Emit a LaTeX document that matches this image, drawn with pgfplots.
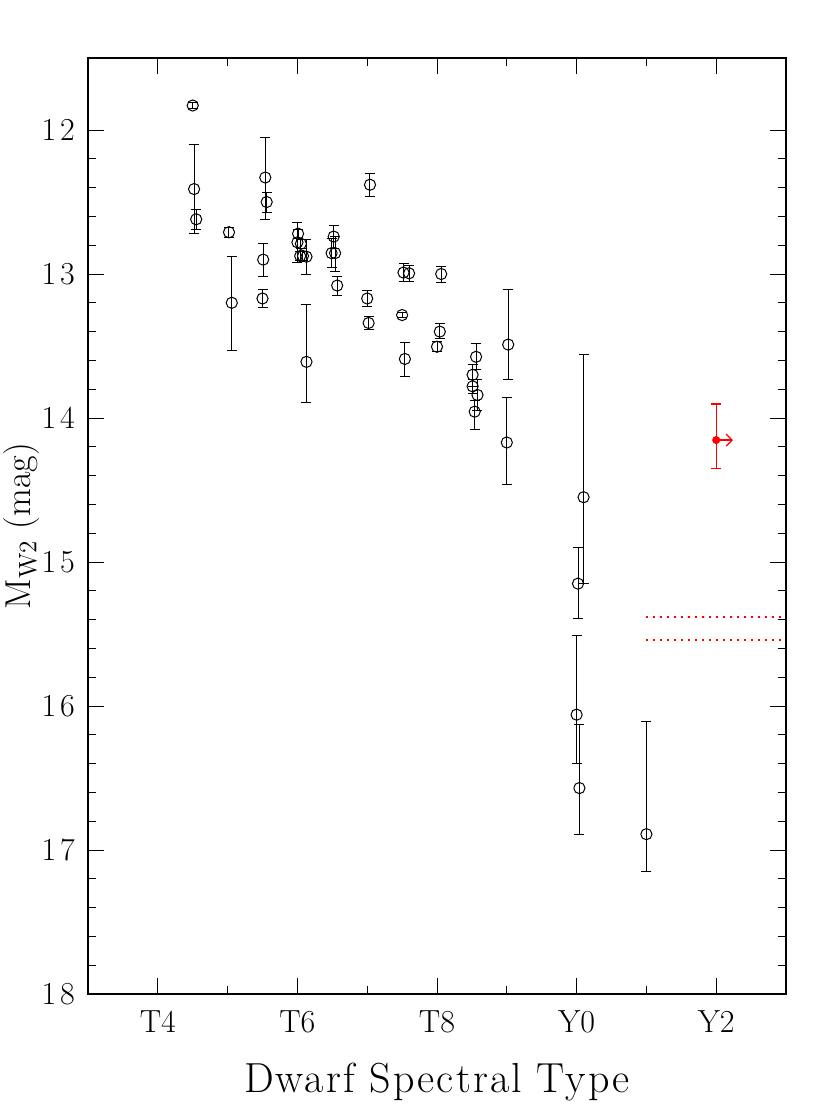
\documentclass[border=0pt]{standalone}
\usepackage{fontspec}
\setmainfont{Latin Modern Roman}
\usepackage{pgfplots}
\pgfplotsset{compat=1.18}
\usepackage{pgfplotstable}
\usetikzlibrary{arrows.meta}

% spectral type coded as number: T4=4 ... T9=9, Y0=10, Y1=11, Y2=12
% ep = error towards fainter (down on page), em = towards brighter
\pgfplotstableread{
x     y       ep     em
4.50  11.83   0.02   0.02
4.52  12.41   0.31   0.31
4.55  12.62   0.07   0.065
5.02  12.71   0.035  0.035
5.06  13.20   0.33   0.32
5.54  12.33   0.29   0.28
5.56  12.50   0.07   0.065
5.51  12.90   0.12   0.11
5.50  13.17   0.06   0.06
6.01  12.72   0.03   0.03
6.00  12.78   0.14   0.14
6.05  12.79   0.03   0.03
6.04  12.875  0.03   0.03
6.08  12.875  0.03   0.03
6.13  12.88   0.12   0.12
6.13  13.61   0.28   0.40
6.52  12.74   0.08   0.08
6.49  12.855  0.10   0.10
6.54  12.855  0.125  0.115
6.57  13.08   0.07   0.06
7.04  12.38   0.08   0.08
7.00  13.17   0.055  0.055
7.02  13.34   0.045  0.045
7.50  13.285  0.02   0.02
7.52  12.99   0.06   0.06
7.60  12.995  0.055  0.055
7.54  13.59   0.12   0.115
8.06  13.00   0.06   0.05
8.04  13.40   0.05   0.055
8.00  13.505  0.035  0.035
8.56  13.575  0.09   0.09
8.51  13.70   0.08   0.07
8.51  13.78   0.05   0.05
8.58  13.84   0.11   0.11
8.54  13.956  0.125  0.08
9.02  13.49   0.24   0.38
9.00  14.17   0.29   0.31
10.10 14.55   0.60   0.99
10.02 15.15   0.24   0.25
10.00 16.06   0.34   0.55
10.04 16.57   0.32   0.44
11.00 16.89   0.26   0.78
}\dwarfs

\begin{document}
\begin{tikzpicture}
\path[use as bounding box] (-44pt,-56pt) rectangle (371pt,497pt);
\begin{axis}[
  scale only axis, width=349pt, height=468pt,
  xmin=3, xmax=13, ymin=11.5, ymax=18, y dir=reverse,
  xtick={4,6,8,10,12}, xticklabels={T4,T6,T8,Y0,Y2},
  minor xtick={3,5,7,9,11,13},
  ytick={12,13,14,15,16,17,18}, minor y tick num=4,
  major tick length=8pt, minor tick length=4pt,
  tick style={black, line width=0.5pt},
  axis line style={line width=0.8pt},
  tick label style={font=\fontsize{16}{16}\selectfont},
  /pgf/number format/assume math mode=true,
  xticklabel style={yshift=-5pt},
  yticklabel style={xshift=-3pt, font=\fontsize{16}{16}\selectfont\addfontfeature{LetterSpace=12}},
  xlabel={Dwarf Spectral Type},
  ylabel={M\textsubscript{W2} (mag)},
  xlabel style={font=\fontsize{21}{21}\selectfont\addfontfeature{LetterSpace=5}, at={([yshift=-44pt]axis description cs:0.5,0)}, anchor=center},
  ylabel style={font=\fontsize{18}{18}\selectfont, at={([xshift=-33pt]axis description cs:0,0.5)}, anchor=center},
]
\addplot[only marks, mark=o, mark size=2.8pt, black, line width=0.5pt,
  error bars/.cd, y dir=both, y explicit,
  error bar style={line width=0.5pt},
  error mark options={rotate=90, mark size=2.5pt, line width=0.5pt}]
  table[x=x, y=y, y error plus=ep, y error minus=em] {\dwarfs};

\addplot[only marks, mark=*, mark size=1.8pt, red,
  error bars/.cd, y dir=both, y explicit,
  error bar style={red, line width=0.6pt},
  error mark options={rotate=90, red, mark size=2.5pt, line width=0.6pt}]
  coordinates {(12,14.153) += (0,0.2) -= (0,0.25)};
\addplot[red, line width=0.6pt, -{Straight Barb[length=3pt,width=6pt]}]
  coordinates {(12,14.153) (12.24,14.153)};

\addplot[red, line width=1pt, dash pattern=on 1pt off 2.5pt] coordinates {(11,15.38) (13,15.38)};
\addplot[red, line width=1pt, dash pattern=on 1pt off 2.5pt] coordinates {(11,15.54) (13,15.54)};
\end{axis}
\end{tikzpicture}
\end{document}
